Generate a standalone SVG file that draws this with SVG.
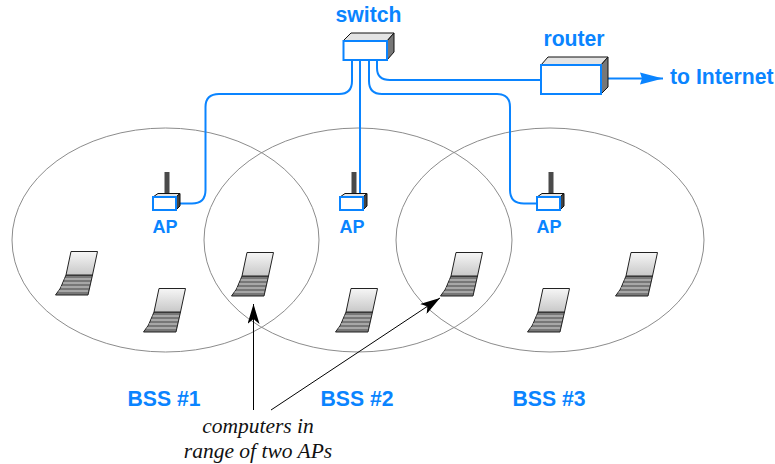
<svg xmlns="http://www.w3.org/2000/svg" width="775" height="464" viewBox="0 0 775 464">
<style>
.lbl{font-family:"Liberation Sans",Arial,sans-serif;font-weight:bold;fill:#0a84ff;font-size:21.200px}
.ap{font-size:18px}
.note{font-family:"Liberation Serif","Times New Roman",serif;font-style:italic;font-size:21.500px;fill:#111}
.cell{fill:none;stroke:#8c8c8c;stroke-width:1}
.wire{fill:none;stroke:#0a84ff;stroke-width:2}
.ptr{fill:none;stroke:#000;stroke-width:1}
.front{fill:#fff;stroke:#0a84ff;stroke-width:2}
.top{fill:#e4e4e4;stroke:#111;stroke-width:1}
.side{fill:#777;stroke:#111;stroke-width:1}
</style>
<defs>
<linearGradient id="scr" x1="0" y1="0" x2="0" y2="1"><stop offset="0" stop-color="#f6f6f6"/><stop offset="1" stop-color="#c8c8c8"/></linearGradient>
<marker id="blue" markerUnits="userSpaceOnUse" markerWidth="24" markerHeight="14" refX="23" refY="6.500" orient="auto"><path d="M0 0.500L23 6.500L0 12.500L2 6.500Z" fill="#0a84ff"/></marker>
<marker id="blk" markerUnits="userSpaceOnUse" markerWidth="24" markerHeight="12" refX="20" refY="6" orient="auto"><path d="M0 0L20 6L0 12L5 6Z" fill="#000"/></marker>
<g id="laptop">
<path d="M10.500 23.500L5 36.500L0 43.500H32.500L37 23.500Z" fill="#777" stroke="#222" stroke-width="1"/>
<path d="M15.500 0H42L37 23.500H10.500Z" fill="url(#scr)" stroke="#222" stroke-width="1"/>
<path d="M9 27.500H35.500M7.500 31.500H34.500M5.500 35.500H33.500M3 39.500H32.500" stroke="#d8d8d8" stroke-width="1" fill="none"/>
</g>
<g id="ap">
<rect x="11.500" y="-25" width="5" height="25" fill="#4a4a4a"/>
<path d="M0 0L5 -3.500H27L23 0Z" class="top"/>
<path d="M23 0L27 -3.500V9L23 13Z" fill="#444" stroke="#111"/>
<rect x="0" y="0" width="23" height="13" class="front"/>
</g>
</defs>
<g id="cells">
<ellipse id="bss1" class="cell" cx="165.500" cy="240" rx="153.500" ry="112"/>
<ellipse id="bss2" class="cell" cx="358" cy="240" rx="154" ry="112"/>
<ellipse id="bss3" class="cell" cx="550" cy="240" rx="154" ry="112"/>
</g>
<g id="connectors">
<path class="wire" d="M352 60V81Q352 94 339 94H219Q205.500 94 205.500 107V190Q205.500 203.500 192 203.500H176"/>
<path class="wire" d="M360 60V197"/>
<path class="wire" d="M369 60V81Q369 94 382 94H497Q510 94 510 107V190Q510 203.500 524 203.500H538"/>
<path class="wire" d="M377 60V68Q377 80 390 80H541"/>
<path class="wire" d="M603 78.500H663" marker-end="url(#blue)"/>
<path class="ptr" d="M253.500 410V304" marker-end="url(#blk)"/>
<path class="ptr" d="M271 410L440 298" marker-end="url(#blk)"/>
</g>
<g id="switch">
<path d="M343 41L351 33H394L387 41Z" class="top"/>
<path d="M387 41L394 33V52L387 60Z" class="side"/>
<rect x="343.500" y="41" width="43.500" height="19" class="front"/>
<text class="lbl" x="368.500" y="22" text-anchor="middle">switch</text>
</g>
<g id="router">
<path d="M541 65L548 57H608L601 65Z" class="top"/>
<path d="M601 65L608 57V87L601 94Z" class="side"/>
<rect x="541" y="65" width="60" height="29" class="front"/>
<text class="lbl" x="574" y="46" text-anchor="middle">router</text>
</g>
<g id="internet"><text class="lbl" x="670" y="84">to Internet</text></g>
<g id="ap1"><use href="#ap" x="153" y="197"/><text class="lbl ap" x="165" y="233" text-anchor="middle">AP</text></g>
<g id="ap2"><use href="#ap" x="340" y="197"/><text class="lbl ap" x="352" y="233" text-anchor="middle">AP</text></g>
<g id="ap3"><use href="#ap" x="537" y="197"/><text class="lbl ap" x="549" y="233" text-anchor="middle">AP</text></g>
<g id="laptop1"><use href="#laptop" x="55.500" y="251.500"/></g>
<g id="laptop2"><use href="#laptop" x="143.500" y="288.500"/></g>
<g id="laptop3"><use href="#laptop" x="231.500" y="252.500"/></g>
<g id="laptop4"><use href="#laptop" x="335.500" y="288.500"/></g>
<g id="laptop5"><use href="#laptop" x="440.500" y="252.500"/></g>
<g id="laptop6"><use href="#laptop" x="527.500" y="288.500"/></g>
<g id="laptop7"><use href="#laptop" x="615.500" y="252.500"/></g>
<g id="bss-labels">
<text class="lbl" x="164" y="406" text-anchor="middle">BSS #1</text>
<text class="lbl" x="357" y="406" text-anchor="middle">BSS #2</text>
<text class="lbl" x="549" y="406" text-anchor="middle">BSS #3</text>
</g>
<g id="note">
<text class="note" x="258" y="433" text-anchor="middle">computers in</text>
<text class="note" x="258" y="458" text-anchor="middle">range of two APs</text>
</g>
</svg>
